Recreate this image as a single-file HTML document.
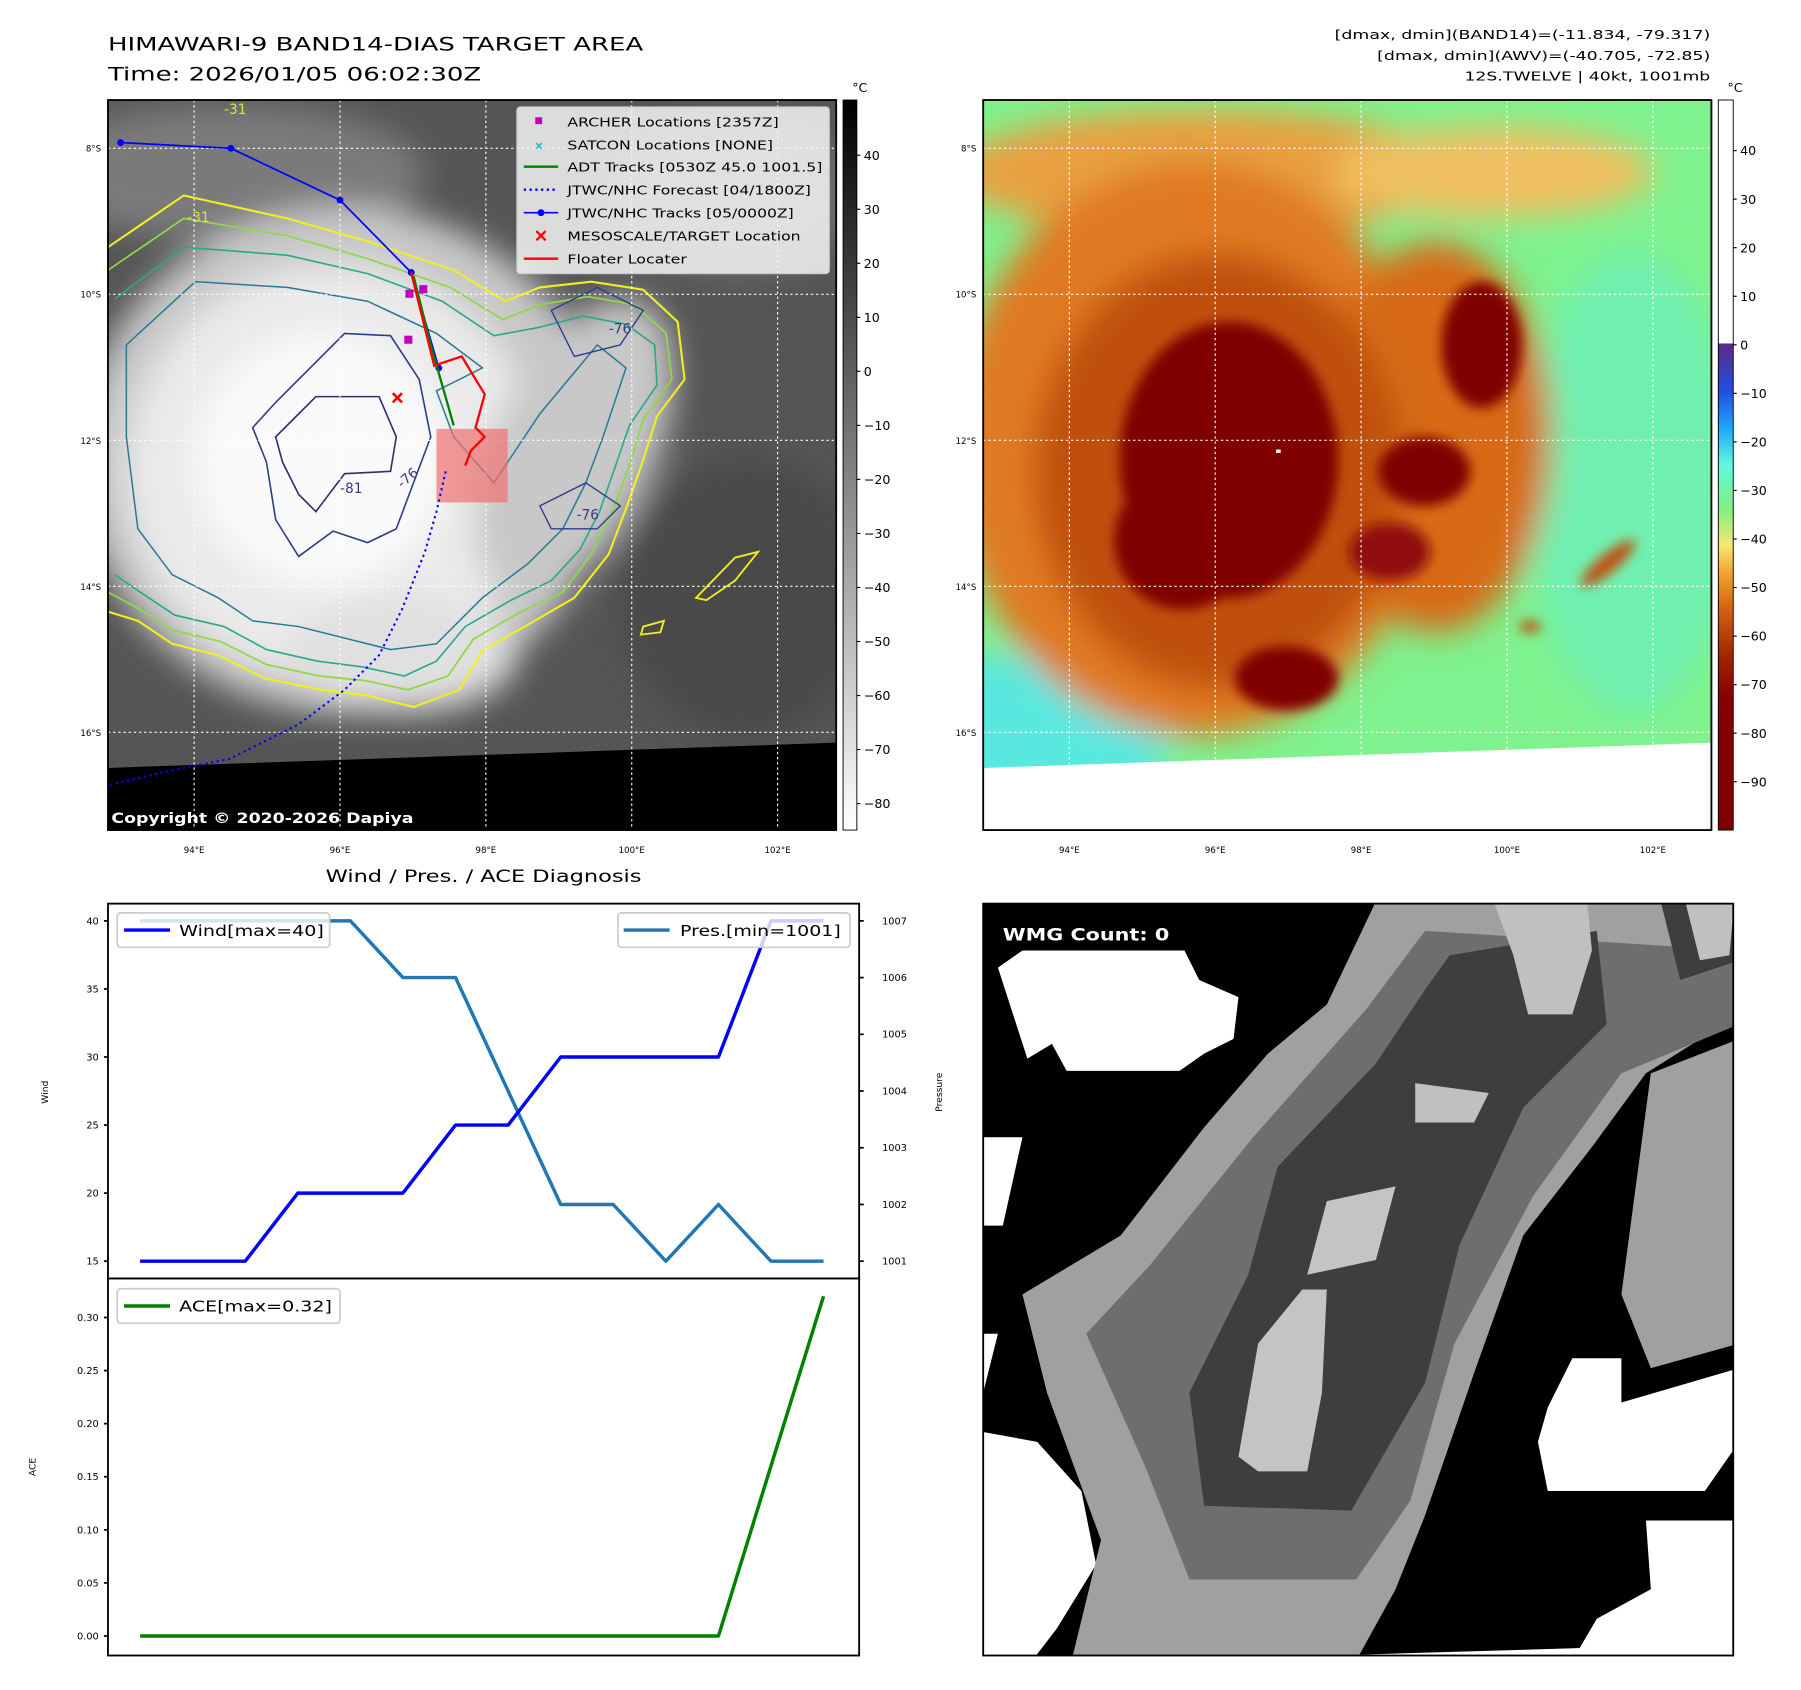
<!DOCTYPE html>
<html><head><meta charset="utf-8"><style>
html,body{margin:0;padding:0;background:#fff;}
svg{display:block;font-family:"DejaVu Sans","Liberation Sans",sans-serif;}
</style></head><body>
<svg id="fig" width="1801" height="1690" viewBox="0 0 1568 1470" preserveAspectRatio="none" xmlns="http://www.w3.org/2000/svg">
<defs>
<filter id="blur8" x="-50%" y="-50%" width="200%" height="200%"><feGaussianBlur stdDeviation="14"/></filter>
<filter id="blur4" x="-50%" y="-50%" width="200%" height="200%"><feGaussianBlur stdDeviation="5"/></filter>
<clipPath id="clipL"><rect x="94" y="87" width="634" height="635"/></clipPath>
<clipPath id="clipR"><rect x="856" y="87" width="634" height="635"/></clipPath>
<clipPath id="clipB"><rect x="856" y="786" width="653" height="654"/></clipPath>
<linearGradient id="cbGray" x1="0" y1="0" x2="0" y2="1"><stop offset="0" stop-color="#000"/><stop offset="1" stop-color="#fff"/></linearGradient>
<linearGradient id="cbJet" x1="0" y1="0" x2="0" y2="1">
<stop offset="0" stop-color="#fff"/><stop offset="0.333" stop-color="#fff"/>
<stop offset="0.334" stop-color="#5a2a8a"/><stop offset="0.40" stop-color="#2050e0"/>
<stop offset="0.45" stop-color="#20a8f8"/><stop offset="0.50" stop-color="#60f8e0"/>
<stop offset="0.56" stop-color="#80f080"/><stop offset="0.61" stop-color="#f8e870"/>
<stop offset="0.65" stop-color="#f0a030"/><stop offset="0.70" stop-color="#d06010"/>
<stop offset="0.76" stop-color="#a02800"/><stop offset="0.82" stop-color="#850000"/>
<stop offset="1" stop-color="#800000"/></linearGradient>
</defs>

<!-- Titles -->
<text x="94" y="44" font-size="16" textLength="466" lengthAdjust="spacingAndGlyphs">HIMAWARI-9 BAND14-DIAS TARGET AREA</text>
<text x="94" y="70" font-size="16" textLength="325" lengthAdjust="spacingAndGlyphs">Time: 2026/01/05 06:02:30Z</text>
<g font-size="10.5" text-anchor="end">
<text x="1489" y="34" textLength="327" lengthAdjust="spacingAndGlyphs">[dmax, dmin](BAND14)=(-11.834, -79.317)</text>
<text x="1489" y="52" textLength="290" lengthAdjust="spacingAndGlyphs">[dmax, dmin](AWV)=(-40.705, -72.85)</text>
<text x="1489" y="70" textLength="214" lengthAdjust="spacingAndGlyphs">12S.TWELVE | 40kt, 1001mb</text>
</g>

<!-- Left map -->
<g clip-path="url(#clipL)">
<rect x="94" y="87" width="634" height="635" fill="#555"/>
<g filter="url(#blur8)">
<ellipse cx="200" cy="150" rx="170" ry="60" fill="#7a7a7a"/>
<ellipse cx="650" cy="520" rx="110" ry="120" fill="#484848"/>
<ellipse cx="640" cy="170" rx="110" ry="70" fill="#6a6a6a"/>
<ellipse cx="300" cy="400" rx="230" ry="220" fill="#c8c8c8"/>
<ellipse cx="290" cy="410" rx="180" ry="180" fill="#eaeaea"/>
<ellipse cx="280" cy="400" rx="110" ry="110" fill="#fafafa"/>
<ellipse cx="500" cy="390" rx="70" ry="140" fill="#c8c8c8" transform="rotate(25 500 390)"/>
<ellipse cx="350" cy="570" rx="100" ry="50" fill="#e0e0e0"/>
</g>
<path d="M94,215 L160,170 L250,190 L320,210 L395,235 L440,262 L470,250 L515,245 L560,252 L590,280 L596,330 L572,362 L560,400 L546,440 L530,482 L500,520 L462,542 L420,566 L400,600 L360,615 L320,605 L280,600 L230,590 L190,570 L150,560 L120,540 L94,532" fill="none" stroke="#f0f020" stroke-width="1.8"/>
<path d="M94,235 L160,190 L250,205 L320,225 L392,250 L438,278 L470,265 L512,258 L552,265 L580,290 L585,330 L560,365 L548,405 L533,445 L515,482 L490,515 L452,533 L412,556 L390,588 L355,600 L318,592 L278,588 L232,578 L192,558 L150,548 L118,528 L94,515" fill="none" stroke="#90d848" stroke-width="1.5"/>
<path d="M100,260 L160,215 L250,222 L320,238 L385,262 L430,292 L468,285 L508,275 L545,282 L570,300 L572,335 L548,370 L536,405 L522,445 L505,478 L480,505 L445,522 L405,545 L380,575 L352,588 L315,580 L276,575 L232,565 L195,545 L152,535 L122,515 L100,500" fill="none" stroke="#2aa888" stroke-width="1.4"/>
<path d="M110,300 L170,245 L250,250 L320,262 L380,290 L420,320 L380,340 L395,380 L430,420 L470,360 L520,300 L545,320 L525,380 L510,420 L490,460 L460,490 L420,520 L380,560 L340,565 L300,555 L260,545 L220,540 L190,520 L150,500 L120,460 L110,380 Z" fill="none" stroke="#2a7890" stroke-width="1.3"/>
<path d="M265,325 L300,290 L340,292 L365,330 L375,380 L360,420 L345,460 L320,472 L290,462 L260,484 L240,452 L232,402 L220,372 L240,350 Z" fill="none" stroke="#2c3e8a" stroke-width="1.4"/>
<path d="M240,380 L275,345 L330,345 L345,380 L340,410 L300,412 L275,445 L260,430 L246,402 Z" fill="none" stroke="#3a2a70" stroke-width="1.4"/>
<path d="M480,270 L520,250 L560,270 L540,300 L500,310 Z M470,440 L510,420 L540,440 L520,460 L480,460 Z" fill="none" stroke="#2c3e8a" stroke-width="1.2"/>
<path d="M606,520 L640,485 L660,480 L640,505 L615,522 Z M560,545 L578,540 L575,550 L558,552 Z" fill="none" stroke="#f0f020" stroke-width="1.6"/>
<g font-size="12" fill="#3a3a80"><text x="296" y="429">-81</text><text x="350" y="425" transform="rotate(-40 350 425)">-76</text><text x="502" y="452">-76</text><text x="530" y="290">-76</text></g>
<g font-size="12" fill="#e0e040"><text x="163" y="193">-31</text><text x="195" y="99">-31</text></g>
<path d="M94,668 L728,646 L728,722 L94,722 Z" fill="#000"/>
<g stroke="#fff" stroke-width="1" stroke-dasharray="2,2.5" fill="none">
<path d="M169,87V722M296,87V722M423,87V722M550,87V722M677,87V722M94,129H728M94,256H728M94,383H728M94,510H728M94,637H728"/>
</g>
<rect x="380" y="373" width="62" height="64" fill="#f07070" opacity="0.7"/>
<polyline points="388,410 380,445 370,480 350,530 330,570 300,600 260,630 200,660 150,670 94,683" fill="none" stroke="#0000ff" stroke-width="1.8" stroke-dasharray="2,3"/>
<polyline points="105,124 201,129 296,174 358,237 382,320" fill="none" stroke="#0000ff" stroke-width="1.5"/>
<g fill="#0000ff"><circle cx="105" cy="124" r="3"/><circle cx="201" cy="129" r="3"/><circle cx="296" cy="174" r="3"/><circle cx="358" cy="237" r="3"/><circle cx="382" cy="320" r="3"/></g>
<polyline points="360,240 375,300 395,370" fill="none" stroke="#008000" stroke-width="2"/>
<polyline points="358,237 378,318 402,310 422,343 414,372 422,380 410,392 405,405" fill="none" stroke="#ff0000" stroke-width="2"/>
<g fill="#c000c0"><rect x="353" y="252" width="7" height="7"/><rect x="365" y="248" width="7" height="7"/><rect x="352" y="292" width="7" height="7"/></g>
<path d="M342,342 L350,350 M350,342 L342,350" stroke="#ff0000" stroke-width="2.2"/>
<text x="97" y="716" font-size="12" font-weight="bold" fill="#fff" textLength="263" lengthAdjust="spacingAndGlyphs">Copyright © 2020-2026 Dapiya</text>
</g>
<rect x="94" y="87" width="634" height="635" fill="none" stroke="#000" stroke-width="1.6"/>

<!-- Legend -->
<g>
<rect x="450" y="93" width="272" height="145" rx="3" fill="#f4f4f4" fill-opacity="0.85" stroke="#ccc"/>
<g font-size="10.5" fill="#000">
<rect x="466" y="102" width="6" height="6" fill="#c000c0"/><text x="494" y="110" textLength="184" lengthAdjust="spacingAndGlyphs">ARCHER Locations [2357Z]</text>
<text x="465" y="130" fill="#00c0c0" font-size="10" font-weight="bold">×</text><text x="494" y="130" textLength="179" lengthAdjust="spacingAndGlyphs">SATCON Locations [NONE]</text>
<line x1="456" y1="145" x2="486" y2="145" stroke="#008000" stroke-width="2"/><text x="494" y="149" textLength="222" lengthAdjust="spacingAndGlyphs">ADT Tracks [0530Z 45.0 1001.5]</text>
<line x1="456" y1="165" x2="486" y2="165" stroke="#0000ff" stroke-width="2" stroke-dasharray="2,3"/><text x="494" y="169" textLength="212" lengthAdjust="spacingAndGlyphs">JTWC/NHC Forecast [04/1800Z]</text>
<line x1="456" y1="185" x2="486" y2="185" stroke="#0000ff" stroke-width="1.5"/><circle cx="471" cy="185" r="3" fill="#0000ff"/><text x="494" y="189" textLength="197" lengthAdjust="spacingAndGlyphs">JTWC/NHC Tracks [05/0000Z]</text>
<path d="M467,201 L475,209 M475,201 L467,209" stroke="#ff0000" stroke-width="2"/><text x="494" y="209" textLength="203" lengthAdjust="spacingAndGlyphs">MESOSCALE/TARGET Location</text>
<line x1="456" y1="225" x2="486" y2="225" stroke="#ff0000" stroke-width="2"/><text x="494" y="229" textLength="104" lengthAdjust="spacingAndGlyphs">Floater Locater</text>
</g></g>

<!-- Right map -->
<g clip-path="url(#clipR)">
<rect x="856" y="87" width="634" height="635" fill="#7ef28e"/>
<g filter="url(#blur8)">
<ellipse cx="880" cy="640" rx="140" ry="70" fill="#58e8e0"/>
<ellipse cx="1420" cy="420" rx="90" ry="200" fill="#70f0b0"/>
<ellipse cx="1050" cy="150" rx="220" ry="55" fill="#e8a040"/>
<ellipse cx="1300" cy="150" rx="140" ry="40" fill="#f0c060"/>
<ellipse cx="1040" cy="390" rx="210" ry="250" fill="#e07a20"/>
<ellipse cx="1250" cy="380" rx="100" ry="170" fill="#d86a18"/>
<ellipse cx="1060" cy="410" rx="160" ry="190" fill="#c05010"/>
</g>
<g filter="url(#blur4)">
<ellipse cx="1070" cy="400" rx="95" ry="120" fill="#800000"/>
<ellipse cx="1030" cy="470" rx="60" ry="60" fill="#800000"/>
<ellipse cx="1290" cy="300" rx="35" ry="55" fill="#800000"/>
<ellipse cx="1240" cy="410" rx="40" ry="30" fill="#800000"/>
<ellipse cx="1210" cy="480" rx="35" ry="25" fill="#900808"/>
<ellipse cx="1120" cy="590" rx="45" ry="28" fill="#800000"/>
<ellipse cx="1400" cy="490" rx="30" ry="8" fill="#c05010" transform="rotate(-40 1400 490)"/>
<ellipse cx="1332" cy="545" rx="10" ry="5" fill="#c05010"/>
</g>
<rect x="1111" y="391" width="4" height="3" fill="#fff"/>
<path d="M856,668 L1490,646 L1490,722 L856,722 Z" fill="#fff"/>
<g stroke="#fff" stroke-width="1" stroke-dasharray="2,2.5" fill="none">
<path d="M931,87V722M1058,87V722M1185,87V722M1312,87V722M1439,87V722M856,129H1490M856,256H1490M856,383H1490M856,510H1490M856,637H1490"/>
</g>
</g>
<rect x="856" y="87" width="634" height="635" fill="none" stroke="#000" stroke-width="1.6"/>

<!-- Colorbars -->
<rect x="734" y="87" width="12" height="635" fill="url(#cbGray)" stroke="#000" stroke-width="0.8"/>
<rect x="1496" y="87" width="13" height="635" fill="url(#cbJet)" stroke="#000" stroke-width="0.8"/>
<text x="742" y="80" font-size="11">°C</text>
<text x="1504" y="80" font-size="11">°C</text>
<g id="cbTicks" font-size="11"></g>

<!-- Map axis labels -->
<g id="mapTicks" font-size="7.5"></g>

<!-- Bottom right WMG -->
<g clip-path="url(#clipB)">
<rect x="856" y="786" width="653" height="654" fill="#000"/>
<g transform="translate(856,784) scale(0.4274)">
<path d="M80,100 L410,100 L440,160 L520,195 L510,280 L450,310 L400,345 L170,345 L140,290 L90,320 L30,135 Z" fill="#fff"/>
<path d="M0,480 L80,480 L40,660 L0,660 Z M0,880 L30,880 L0,1000Z" fill="#fff"/>
<path d="M0,1080 L110,1100 L200,1200 L230,1350 L150,1480 L100,1545 L0,1545 Z" fill="#fff"/>
<path d="M1200,930 L1300,930 L1300,1020 L1540,950 L1540,1100 L1470,1200 L1150,1200 L1130,1100 L1150,1030 Z" fill="#fff"/>
<path d="M1350,1260 L1540,1260 L1540,1545 L1200,1545 L1250,1460 L1360,1400 Z" fill="#fff"/>
<path d="M370,1545 L1540,1510 L1540,1545 Z" fill="#fff"/>
<path d="M800,0 L1540,0 L1540,230 L1350,350 L1240,500 L1100,680 L1000,960 L900,1250 L840,1400 L760,1545 L180,1545 L240,1300 L130,1000 L80,800 L280,680 L450,460 L580,310 L700,210 Z" fill="#a0a0a0"/>
<path d="M1360,350 L1540,280 L1540,900 L1360,950 L1300,800 Z" fill="#a0a0a0"/>
<path d="M900,60 L1540,100 L1540,250 L1300,350 L1120,600 L960,900 L870,1220 L760,1380 L420,1380 L330,1150 L210,880 L340,740 L550,480 L780,220 Z" fill="#6e6e6e"/>
<path d="M950,110 L1250,60 L1270,250 L1100,420 L970,700 L900,980 L750,1240 L450,1230 L420,1000 L540,760 L600,540 L800,330 L900,180 Z" fill="#3e3e3e"/>
<path d="M1380,0 L1540,0 L1540,120 L1420,160 Z" fill="#3e3e3e"/>
<path d="M700,610 L840,580 L800,730 L660,760 Z" fill="#c4c4c4"/>
<path d="M650,790 L700,790 L690,1000 L660,1160 L560,1160 L520,1130 L560,900 Z" fill="#c4c4c4"/>
<path d="M1040,0 L1230,0 L1240,100 L1200,230 L1110,230 L1080,110 Z" fill="#c0c0c0"/>
<path d="M1430,0 L1530,0 L1520,110 L1460,120 Z M880,370 L1030,390 L1000,450 L880,450 Z" fill="#c0c0c0"/>
</g>
<rect x="866" y="798" width="148" height="28" rx="3" fill="#000"/>
<text x="873" y="818" font-size="15" font-weight="bold" fill="#fff" textLength="145" lengthAdjust="spacingAndGlyphs">WMG Count: 0</text>
</g>
<rect x="856" y="786" width="653" height="654" fill="none" stroke="#000" stroke-width="1.6"/>

<!-- Bottom left chart -->
<text x="421" y="767" font-size="15" text-anchor="middle" textLength="275" lengthAdjust="spacingAndGlyphs">Wind / Pres. / ACE Diagnosis</text>
<g id="chart"></g>
<rect x="94" y="786" width="654" height="326" fill="none" stroke="#000" stroke-width="1.6"/>
<rect x="94" y="1112" width="654" height="328" fill="none" stroke="#000" stroke-width="1.6"/>
<text x="0" y="0" font-size="8" text-anchor="middle" transform="translate(42,950) rotate(-90)">Wind</text>
<text x="0" y="0" font-size="8" text-anchor="middle" transform="translate(820,950) rotate(-90)">Pressure</text>
<text x="0" y="0" font-size="8" text-anchor="middle" transform="translate(31,1276) rotate(-90)">ACE</text>
<g><rect x="102" y="794" width="185" height="30" rx="3" fill="#fff" fill-opacity="0.8" stroke="#ccc" stroke-width="1.5"/><line x1="108" y1="809" x2="148" y2="809" stroke="#0000ff" stroke-width="3"/><text x="156" y="814" font-size="13" textLength="126" lengthAdjust="spacingAndGlyphs">Wind[max=40]</text></g>
<g><rect x="538" y="794" width="202" height="30" rx="3" fill="#fff" fill-opacity="0.8" stroke="#ccc" stroke-width="1.5"/><line x1="543" y1="809" x2="583" y2="809" stroke="#1f77b4" stroke-width="3"/><text x="592" y="814" font-size="13" textLength="140" lengthAdjust="spacingAndGlyphs">Pres.[min=1001]</text></g>
<g><rect x="102" y="1121" width="194" height="30" rx="3" fill="#fff" fill-opacity="0.8" stroke="#ccc" stroke-width="1.5"/><line x1="108" y1="1136" x2="148" y2="1136" stroke="#008000" stroke-width="3"/><text x="156" y="1141" font-size="13" textLength="133" lengthAdjust="spacingAndGlyphs">ACE[max=0.32]</text></g>
</svg>
<script>
const steps = [0,1,2,3,4,5,6,7,8,9,10,11,12,13];
const windVals = [15,15,15,20,20,20,25,25,30,30,30,30,40,40];
const presVals = [1007,1007,1007,1007,1007,1006,1006,1004,1002,1002,1001,1002,1001,1001];
const aceVals = [0,0,0,0,0,0,0,0,0,0,0,0,0.16,0.32];
const windTicks = [15,20,25,30,35,40];
const presTicks = [1001,1002,1003,1004,1005,1006,1007];
const aceTicks = [0,0.05,0.10,0.15,0.20,0.25,0.30];
const cbGrayTicks = [40,30,20,10,0,-10,-20,-30,-40,-50,-60,-70,-80];
const cbAwvTicks = [40,30,20,10,0,-10,-20,-30,-40,-50,-60,-70,-80,-90];
const lonTicks = [94,96,98,100,102];
const latTicks = [8,10,12,14,16];

const NS='http://www.w3.org/2000/svg';
function mk(tag, attrs, parent){const e=document.createElementNS(NS,tag);for(const k in attrs)e.setAttribute(k,attrs[k]);parent.appendChild(e);return e;}
const xS = i => 122 + (i - steps[0]) * (595 / 13);
const yWind = v => 801 + (40 - v) * (296 / 25);
const yPres = v => 801 + (1007 - v) * (296 / 6);
const yAce = v => 1423 - v * (277 / 0.30);

const chart = document.getElementById('chart');
function line(vals, yf, color, name){
  const pts = vals.map((v,i)=>xS(steps[i]).toFixed(1)+','+yf(v).toFixed(1)).join(' ');
  const p = mk('polyline',{points:pts,fill:'none',stroke:color,'stroke-width':3,'stroke-linejoin':'round'},chart);
  
  
}
line(presVals, yPres, '#1f77b4', 'pressure-line');
line(windVals, yWind, '#0000ff', 'wind-line');
line(aceVals, yAce, '#008000', 'ace-line');

function yTicks(ticks, yf, side, fmt, name){
  ticks.forEach(t=>{
    const y=yf(t);
    const g=mk('g',{},chart);
    
    
    if(side==='L'){
      mk('line',{x1:90.5,x2:94,y1:y,y2:y,stroke:'#000','stroke-width':1.5},g);
      const tx=mk('text',{x:86,y:y+3,'font-size':8.5,'text-anchor':'end'},g); tx.textContent=fmt(t);
    } else {
      mk('line',{x1:748,x2:752,y1:y,y2:y,stroke:'#000','stroke-width':1.5},g);
      const tx=mk('text',{x:768,y:y+3,'font-size':8.5},g); tx.textContent=fmt(t);
    }
  });
}
yTicks(windTicks, yWind, 'L', t=>String(t), 'wind-tick');
yTicks(presTicks, yPres, 'R', t=>String(t), 'pressure-tick');
yTicks(aceTicks, yAce, 'L', t=>t.toFixed(2), 'ace-tick');

const cb = document.getElementById('cbTicks');
cbGrayTicks.forEach(t=>{
  const y=135+(40-t)*4.7;
  mk('line',{x1:746,x2:749,y1:y,y2:y,stroke:'#000'},cb);
  const tx=mk('text',{x:752,y:y+4},cb); tx.textContent=t<0?'\u2212'+(-t):String(t);
  
  
});
cbAwvTicks.forEach(t=>{
  const y=131+(40-t)*4.223;
  mk('line',{x1:1509,x2:1512,y1:y,y2:y,stroke:'#000'},cb);
  const tx=mk('text',{x:1515,y:y+4},cb); tx.textContent=t<0?'\u2212'+(-t):String(t);
  
  
});

const mt = document.getElementById('mapTicks');
[0,762].forEach(off=>{
  lonTicks.forEach(l=>{
    const x=169+(l-94)*63.5+off;
    const tx=mk('text',{x:x,y:742,'text-anchor':'middle'},mt); tx.textContent=l+'°E';
    
    
  });
  latTicks.forEach(l=>{
    const y=129+(l-8)*63.5;
    const tx=mk('text',{x:88+off,y:y+3,'text-anchor':'end'},mt); tx.textContent=l+'°S';
    
    
  });
});
</script>
</body></html>
